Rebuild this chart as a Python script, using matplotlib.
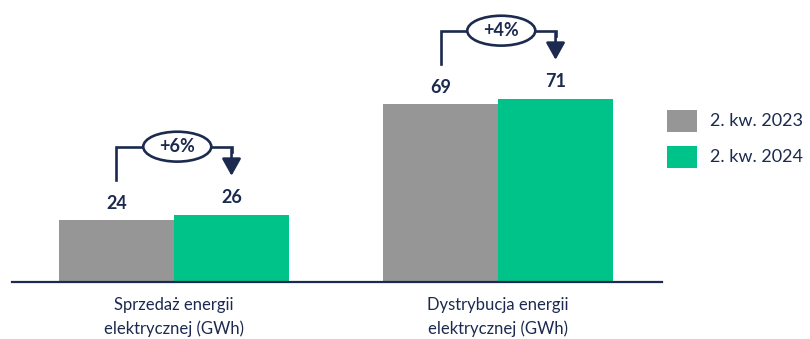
import matplotlib
matplotlib.use("Agg")
import matplotlib.pyplot as plt
from matplotlib.patches import Ellipse, Rectangle

categories = ["Sprzedaż energii\nelektrycznej (GWh)", "Dystrybucja energii\nelektrycznej (GWh)"]
series_names = ["2. kw. 2023", "2. kw. 2024"]
values_2023 = [24, 69]
values_2024 = [26, 71]
changes = ["+6%", "+4%"]

GRAY = "#969696"
GREEN = "#00c389"
NAVY = "#1b2a4e"
FONT = ["Lato", "DejaVu Sans"]

fig = plt.figure(figsize=(8.10, 3.39), dpi=100)
ax = fig.add_axes([12 / 810, 57 / 339, 650 / 810, 282 / 339])
ax.set_xlim(-0.5, 1.506)
ax.set_ylim(0, 109.4)

w = 0.355
x = list(range(len(categories)))
ax.bar([i - w / 2 for i in x], values_2023, width=w, color=GRAY, zorder=2)
ax.bar([i + w / 2 for i in x], values_2024, width=w, color=GREEN, zorder=2)

for i in x:
    ax.text(i - w / 2, values_2023[i] + 6.6, str(values_2023[i]), ha="center", va="center",
            fontsize=13, fontweight="bold", color=NAVY, family=FONT)
    ax.text(i + w / 2, values_2024[i] + 6.6, str(values_2024[i]), ha="center", va="center",
            fontsize=13, fontweight="bold", color=NAVY, family=FONT)

    # change bracket: from the older bar up, across, and down onto the newer bar
    top = max(values_2023[i], values_2024[i]) + 26.5
    xl, xr = i - w / 2, i + w / 2
    ax.plot([xl, xl, xr, xr], [values_2023[i] + 15.5, top, top, top - 2],
            color=NAVY, lw=1.9, solid_joinstyle="miter", zorder=3, clip_on=False)
    ax.annotate("", xy=(xr, values_2024[i] + 15.2), xytext=(xr, top - 1),
                arrowprops=dict(arrowstyle="-|>,head_width=0.29,head_length=0.52",
                                color=NAVY, lw=1.9, mutation_scale=20,
                                shrinkA=0, shrinkB=0), zorder=3)
    el = Ellipse((i + 0.01, top), width=0.21, height=11.6, facecolor="white",
                 edgecolor=NAVY, lw=1.9, zorder=4, clip_on=False)
    ax.add_patch(el)
    ax.text(i + 0.01, top, changes[i], ha="center", va="center", fontsize=13,
            fontweight="bold", color=NAVY, family=FONT, zorder=5)

for s in ["top", "right", "left"]:
    ax.spines[s].set_visible(False)
ax.spines["bottom"].set_color(NAVY)
ax.spines["bottom"].set_linewidth(1.6)
ax.set_yticks([])
ax.set_xticks(x)
ax.set_xticklabels(categories, fontsize=12, color=NAVY, family=FONT, linespacing=1.5)
ax.tick_params(axis="x", length=0, pad=11)

# legend
for k, (name, col) in enumerate(zip(series_names, [GRAY, GREEN])):
    yc = 121 + k * 36
    fig.patches.append(Rectangle((667 / 810, 1 - (yc + 11) / 339), 30 / 810, 22 / 339,
                                 transform=fig.transFigure, facecolor=col, edgecolor="none"))
    fig.text(710 / 810, 1 - yc / 339, name, ha="left", va="center", fontsize=13,
             color=NAVY, family=FONT)

fig.savefig("out.png", dpi=100)
